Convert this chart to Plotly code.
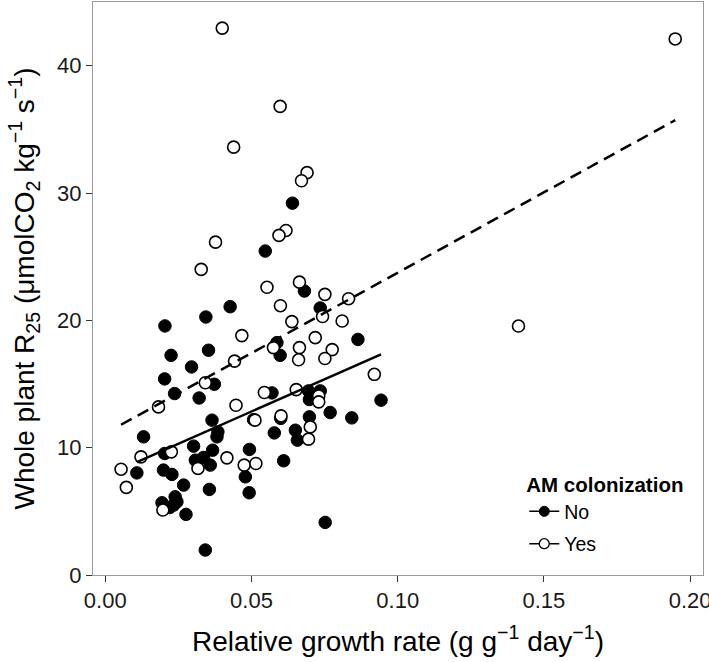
import plotly.graph_objects as go

# AM colonization: No (filled)
no_x = [0.0640, 0.0547, 0.0681, 0.0735, 0.0427, 0.0344, 0.0204, 0.0864, 0.0587, 0.0598,
        0.0225, 0.0353, 0.0295, 0.0203, 0.0237, 0.0373, 0.0321, 0.0131, 0.0365, 0.0385,
        0.0382, 0.0302, 0.0203, 0.0367, 0.0336, 0.0308, 0.0359, 0.0108, 0.0199, 0.0228,
        0.0268, 0.0356, 0.0239, 0.0194, 0.0234, 0.0245, 0.0220, 0.0276, 0.0342, 0.0570,
        0.0695, 0.0735, 0.0698, 0.0769, 0.0843, 0.0943, 0.0698, 0.0650, 0.0578, 0.0657,
        0.0493, 0.0610, 0.0479, 0.0492, 0.0752, 0.0507, 0.0600]
no_y = [29.2, 25.44, 22.3, 20.97, 21.07, 20.26, 19.56, 18.5, 18.25, 17.25,
        17.25, 17.65, 16.34, 15.4, 14.25, 14.98, 13.9, 10.85, 12.16, 11.24,
        10.85, 10.12, 9.54, 9.8, 9.23, 9.02, 8.63, 8.02, 8.24, 7.9,
        7.06, 6.72, 6.14, 5.67, 5.49, 5.75, 5.3, 4.76, 1.96, 14.3,
        14.46, 14.46, 13.78, 12.76, 12.34, 13.73, 12.42, 11.37, 11.16, 10.59,
        9.86, 8.97, 7.71, 6.46, 4.13, 12.2, 12.3]

# AM colonization: Yes (open)
yes_x = [0.0400, 0.0598, 0.0439, 0.0690, 0.0671, 0.1949, 0.1413, 0.0618, 0.0594, 0.0377,
         0.0328, 0.0553, 0.0664, 0.0751, 0.0832, 0.0599, 0.0743, 0.0638, 0.0810, 0.0467,
         0.0718, 0.0664, 0.0575, 0.0776, 0.0661, 0.0751, 0.0442, 0.0920, 0.0342, 0.0182,
         0.0447, 0.0544, 0.0653, 0.0730, 0.0730, 0.0601, 0.0512, 0.0701, 0.0695, 0.0226,
         0.0122, 0.0416, 0.0475, 0.0515, 0.0317, 0.0054, 0.0072, 0.0197]
yes_y = [42.95, 36.8, 33.6, 31.6, 30.96, 42.1, 19.55, 27.06, 26.67, 26.14,
         24.0, 22.6, 23.0, 22.04, 21.7, 21.15, 20.3, 19.9, 19.95, 18.8,
         18.64, 17.86, 17.86, 17.7, 16.9, 17.0, 16.8, 15.76, 15.1, 13.2,
         13.33, 14.33, 14.56, 14.06, 13.6, 12.5, 12.16, 11.63, 10.67, 9.67,
         9.28, 9.2, 8.63, 8.76, 8.37, 8.31, 6.88, 5.1]

# Linear fits (end points over each group's range)
fit_no_x = [0.0108, 0.0943]
fit_no_y = [8.87, 17.33]
fit_yes_x = [0.0054, 0.1949]
fit_yes_y = [11.8, 35.72]

x_ticks = [0.00, 0.05, 0.10, 0.15, 0.20]
x_tick_labels = ["0.00", "0.05", "0.10", "0.15", "0.20"]
y_ticks = [0, 10, 20, 30, 40]

font_family = "Liberation Sans, Arial, sans-serif"

fig = go.Figure()
fig.add_trace(go.Scatter(x=no_x, y=no_y, mode="markers", showlegend=False,
                         marker=dict(size=12.5, color="black", line=dict(color="black", width=1))))
fig.add_trace(go.Scatter(x=yes_x, y=yes_y, mode="markers", showlegend=False,
                         marker=dict(size=12, color="white", line=dict(color="black", width=1.6))))
fig.add_trace(go.Scatter(x=fit_no_x, y=fit_no_y, mode="lines", showlegend=False,
                         line=dict(color="black", width=2.5)))
fig.add_trace(go.Scatter(x=fit_yes_x, y=fit_yes_y, mode="lines", showlegend=False,
                         line=dict(color="black", width=2.5, dash="12px,7px")))
# legend entries
fig.add_trace(go.Scatter(x=[None], y=[None], mode="lines+markers", name="No", legendgroup="no",
                         line=dict(color="black", width=1.5),
                         marker=dict(size=10, color="black", line=dict(color="black", width=1))))
fig.add_trace(go.Scatter(x=[None], y=[None], mode="lines+markers", name="Yes", legendgroup="yes",
                         line=dict(color="black", width=1.5),
                         marker=dict(size=10, color="white", line=dict(color="black", width=1.3))))

fig.update_layout(
    width=709, height=662, autosize=False,
    margin=dict(l=93, r=6, t=2, b=87),
    paper_bgcolor="white", plot_bgcolor="white",
    font=dict(family=font_family, color="black"),
    legend=dict(
        title=dict(text="<b>AM colonization</b>", font=dict(size=20.5)),
        font=dict(size=19.5),
        x=0.707, y=0.020, xanchor="left", yanchor="bottom",
        bgcolor="rgba(255,255,255,0)", tracegroupgap=4, itemwidth=30,
    ),
    xaxis=dict(
        range=[-0.0042, 0.2044], tickvals=x_ticks, ticktext=x_tick_labels,
        showgrid=False, zeroline=False, showline=True, mirror=True,
        linecolor="#9a9a9a", linewidth=1, automargin=False,
        ticklabeloverflow="allow",
        ticks="outside", ticklen=6, tickwidth=1, tickcolor="#333333",
        tickfont=dict(size=22, color="#1a1a1a"),
        title=dict(text="Relative growth rate (g g<sup>−1</sup> day<sup>−1</sup>)",
                   font=dict(size=28), standoff=18),
    ),
    yaxis=dict(
        range=[0, 45], tickvals=y_ticks,
        showgrid=False, zeroline=False, showline=True, mirror=True,
        linecolor="#9a9a9a", linewidth=1, automargin=False,
        ticklabeloverflow="allow",
        ticks="outside", ticklen=6, tickwidth=1, tickcolor="#333333",
        tickfont=dict(size=22, color="#1a1a1a"),
        title=dict(text="Whole plant R<sub>25</sub> (μmolCO<sub>2</sub> kg<sup>−1</sup> s<sup>−1</sup>)",
                   font=dict(size=28), standoff=14),
    ),
)

fig.write_html("out.html", config={"displayModeBar": False},
               post_script="document.body.style.margin='0px';")
